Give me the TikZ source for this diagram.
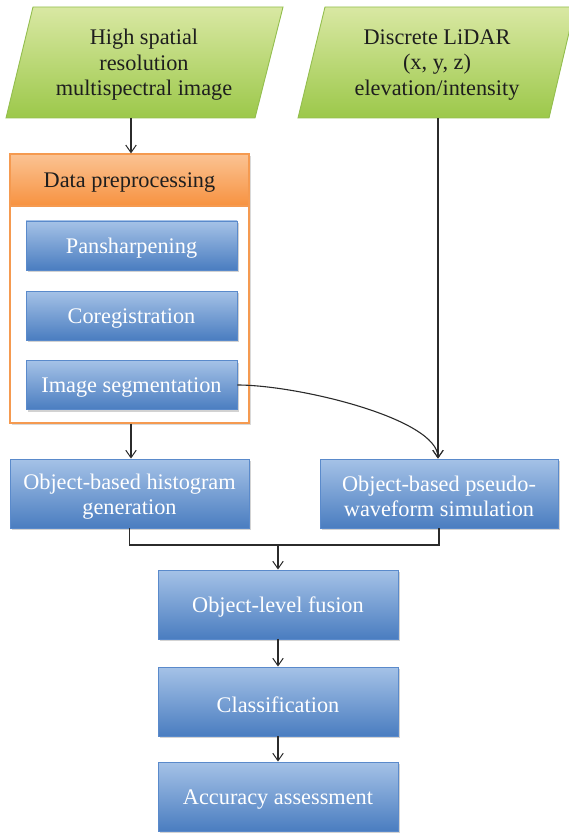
\documentclass[tikz,border=0pt]{standalone}
\usepackage{fontspec}
\setmainfont{Liberation Serif}
\usetikzlibrary{arrows.meta,shadows,calc}

\definecolor{bluetop}{HTML}{A5C2E7}
\definecolor{bluebot}{HTML}{4A7DC0}
\definecolor{blueline}{HTML}{5A8ACB}
\definecolor{greentop}{HTML}{D9E8A3}
\definecolor{greenbot}{HTML}{9CC84A}
\definecolor{greenline}{HTML}{93BE4E}
\definecolor{orangetop}{HTML}{FBC393}
\definecolor{orangebot}{HTML}{F79240}
\definecolor{orangeline}{HTML}{F59A50}
\definecolor{ink}{HTML}{1E1E1E}
\definecolor{wire}{HTML}{2B2B2B}

\tikzset{
  basefont/.style={font=\fontsize{22.3}{25.5}\selectfont},
  % caption placed at the middle of a box, nudged down a little
  caption/.style={basefont, align=center, inner sep=0pt, yshift=-3pt},
  bluebox/.style={draw=blueline, line width=0.9pt,
    top color=bluetop, bottom color=bluebot, inner sep=0pt,
    drop shadow={shadow xshift=1.6pt, shadow yshift=-2pt, opacity=0.35},
    label={[caption, text=white]center:#1}},
  greenshape/.style={draw=greenline, line width=0.9pt,
    top color=greentop, bottom color=greenbot},
  intext/.style={basefont, text=ink, align=center, inner sep=0pt},
  framebox/.style={draw=orangeline, line width=1.2pt, fill=white,
    drop shadow={shadow xshift=1.6pt, shadow yshift=-2pt, opacity=0.3}},
  headbox/.style={draw=orangeline, line width=1.2pt,
    top color=orangetop, bottom color=orangebot, inner sep=0pt,
    label={[caption, text=ink]center:#1}},
  arr/.style={draw=wire, line width=1.1pt,
    -{Straight Barb[length=7.5pt, width=10.5pt, line width=1pt]}},
  wireline/.style={draw=wire, line width=1.1pt}
}

\begin{document}
\begin{tikzpicture}[x=1pt, y=-1pt]
\useasboundingbox (0,0) rectangle (568,834);

% input data (parallelograms)
\path[greenshape] (33,7) -- (283,7) -- (255,118) -- (6,118) -- cycle;
\node[intext] (hsr) at (144,65) {High spatial\\resolution\\multispectral image};
\coordinate (hsrB) at (131,118);

\path[greenshape] (325,7) -- (575,7) -- (549,118) -- (298,118) -- cycle;
\node[intext] (lidar) at (437,65) {Discrete LiDAR\\(x, y, z)\\elevation/intensity};
\coordinate (lidarB) at (438,118);

% preprocessing group
\node[framebox, minimum width=239pt, minimum height=269pt] (prep) at (129.5,288.5) {};
\node[headbox={Data preprocessing}, minimum width=239pt, minimum height=52pt] (head) at (129.5,180) {};
\node[bluebox={Pansharpening}, minimum width=211pt, minimum height=49pt] (pan) at (131.5,245.5) {};
\node[bluebox={Coregistration}, minimum width=211pt, minimum height=49pt] (coreg) at (131.5,315.5) {};
\node[bluebox={Image segmentation}, minimum width=211pt, minimum height=49pt] (seg) at (131.5,385) {};

% object-based processing
\node[bluebox={Object-based histogram\\generation}, minimum width=239pt, minimum height=69pt] (hist) at (129.5,493.5) {};
\node[bluebox={Object-based pseudo-\\waveform simulation}, minimum width=238pt, minimum height=69pt] (pseudo) at (439,493.5) {};

% fusion and classification chain
\node[bluebox={Object-level fusion}, minimum width=240pt, minimum height=69pt] (fusion) at (278,604.5) {};
\node[bluebox={Classification}, minimum width=240pt, minimum height=69pt] (class) at (278,701.5) {};
\node[bluebox={Accuracy assessment}, minimum width=240pt, minimum height=69pt] (acc) at (278,796.5) {};

% connectors
\draw[arr] (hsrB) -- (hsrB |- head.north);
\draw[arr] (hsrB |- prep.south) -- (hsrB |- hist.north);
\draw[arr] (lidarB) -- (lidarB |- pseudo.north);
\draw[arr] (seg.east) .. controls +(60,0) and +(0,-40) .. (lidarB |- pseudo.north);

\coordinate (jn) at (278,545);
\draw[wireline] (hist.south) |- (jn) -| (pseudo.south);
\draw[arr] (jn) -- (fusion.north);
\draw[arr] (fusion.south) -- (class.north);
\draw[arr] (class.south) -- (acc.north);
\end{tikzpicture}
\end{document}
